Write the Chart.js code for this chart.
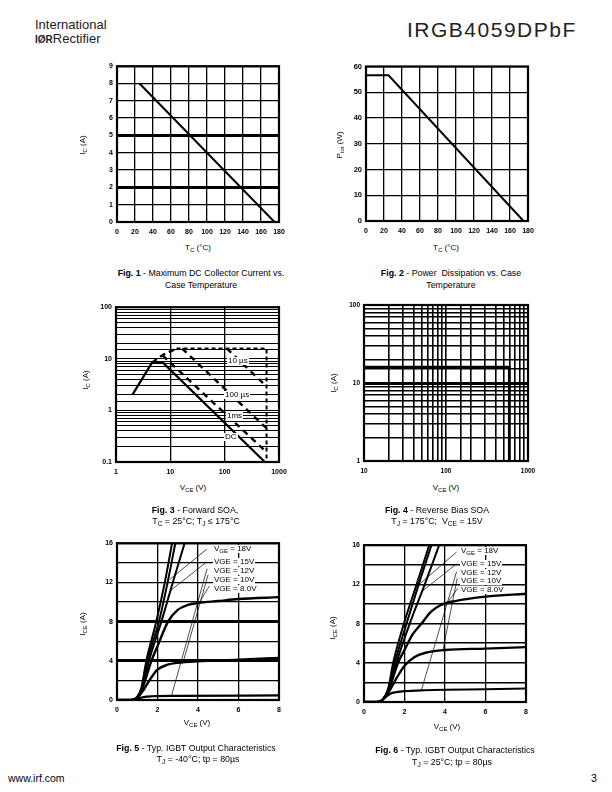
<!DOCTYPE html>
<html>
<head>
<meta charset="utf-8">
<script src="https://cdn.jsdelivr.net/npm/chart.js@4.4.0/dist/chart.umd.min.js"></script>
<style>
  body { margin: 0; width: 612px; height: 792px; position: relative; background: #fff; overflow: hidden;
         font-family: "Liberation Sans", Arial, sans-serif; color: #000; }
  canvas { position: absolute; }
  .t { position: absolute; white-space: nowrap; line-height: 1; }
  .c { transform: translate(-50%, -50%); }
  .r { transform: translate(-50%, -50%) rotate(-90deg); }
  .axt { font-size: 8px; }
  .cap { font-size: 8.8px; }
  .lbl { font-size: 8px; background: #fff; padding: 0 1px; }
  sub { font-size: 75%; vertical-align: -2px; line-height: 0; }
</style>
</head>
<body>
<div class="t" style="left:35px;top:18px;font-size:13px;color:#222">International</div>
<div class="t" style="left:35px;top:32px;font-size:13px;color:#222"><b style="font-size:10px">IØR</b>Rectifier</div>
<div class="t" style="left:407px;top:19px;font-size:21px;letter-spacing:1.5px;color:#222">IRGB4059DPbF</div>

<canvas id="fig1"></canvas>
<canvas id="fig2"></canvas>
<canvas id="fig3"></canvas>
<canvas id="fig4"></canvas>
<canvas id="fig5"></canvas>
<canvas id="fig6"></canvas>

<!-- axis titles -->
<div class="t axt r" style="left:83px;top:145px">I<sub>C</sub> (A)</div>
<div class="t axt c" style="left:198px;top:248px">T<sub>C</sub> (°C)</div>
<div class="t axt r" style="left:340px;top:145px">P<sub>tot</sub> (W)</div>
<div class="t axt c" style="left:446px;top:248px">T<sub>C</sub> (°C)</div>
<div class="t axt r" style="left:86px;top:380px">I<sub>C</sub> (A)</div>
<div class="t axt c" style="left:193px;top:488px">V<sub>CE</sub> (V)</div>
<div class="t axt r" style="left:334px;top:383px">I<sub>C</sub> (A)</div>
<div class="t axt c" style="left:446px;top:488px">V<sub>CE</sub> (V)</div>
<div class="t axt r" style="left:83px;top:624px">I<sub>CE</sub> (A)</div>
<div class="t axt c" style="left:197px;top:723px">V<sub>CE</sub> (V)</div>
<div class="t axt r" style="left:333px;top:628px">I<sub>CE</sub> (A)</div>
<div class="t axt c" style="left:447px;top:727px">V<sub>CE</sub> (V)</div>

<!-- fig 3 curve labels -->
<div class="t lbl" style="left:227px;top:357px">10 µs</div>
<div class="t lbl" style="left:224px;top:391px">100 µs</div>
<div class="t lbl" style="left:226px;top:412px">1ms</div>
<div class="t lbl" style="left:224px;top:433px">DC</div>

<!-- fig 5 / 6 legends -->
<div class="t lbl" style="left:213px;top:545px">V<sub>GE</sub> = 18V</div>
<div class="t lbl" style="left:213px;top:558px">VGE = 15V</div>
<div class="t lbl" style="left:213px;top:567px">VGE = 12V</div>
<div class="t lbl" style="left:213px;top:576px">VGE = 10V</div>
<div class="t lbl" style="left:213px;top:585px">VGE = 8.0V</div>
<div class="t lbl" style="left:460px;top:547px">V<sub>GE</sub> = 18V</div>
<div class="t lbl" style="left:460px;top:560px">VGE = 15V</div>
<div class="t lbl" style="left:460px;top:569px">VGE = 12V</div>
<div class="t lbl" style="left:460px;top:577px">VGE = 10V</div>
<div class="t lbl" style="left:460px;top:586px">VGE = 8.0V</div>

<!-- captions -->
<div class="t cap c" style="left:201px;top:273px"><b>Fig. 1</b> - Maximum DC Collector Current vs.</div>
<div class="t cap c" style="left:201px;top:285px">Case Temperature</div>
<div class="t cap c" style="left:451px;top:273px"><b>Fig. 2</b> - Power&nbsp; Dissipation vs. Case</div>
<div class="t cap c" style="left:451px;top:285px">Temperature</div>
<div class="t cap c" style="left:195px;top:510px"><b>Fig. 3</b> - Forward SOA,</div>
<div class="t cap c" style="left:196px;top:521px">T<sub>C</sub> = 25°C; T<sub>J</sub> ≤ 175°C</div>
<div class="t cap c" style="left:437px;top:510px"><b>Fig. 4</b> - Reverse Bias SOA</div>
<div class="t cap c" style="left:437px;top:521px">T<sub>J</sub> = 175°C;&nbsp; V<sub>CE</sub> = 15V</div>
<div class="t cap c" style="left:196px;top:748px"><b>Fig. 5</b> - Typ. IGBT Output Characteristics</div>
<div class="t cap c" style="left:198px;top:759px">T<sub>J</sub> = -40°C; tp = 80µs</div>
<div class="t cap c" style="left:455px;top:750px"><b>Fig. 6</b> - Typ. IGBT Output Characteristics</div>
<div class="t cap c" style="left:452px;top:762px">T<sub>J</sub> = 25°C; tp = 80µs</div>

<div class="t" style="left:8px;top:773px;font-size:10.5px">www.irf.com</div>
<div class="t" style="left:591px;top:773px;font-size:10.5px">3</div>

<script>
// Fig 1 - max DC collector current vs case temperature
const fig1Temp = [25, 175];
const fig1Current = [8, 0];

// Fig 2 - power dissipation vs case temperature
const fig2Temp = [0, 25, 175];
const fig2Power = [56.6, 56.6, 0];

// Fig 3 - forward SOA
const fig3DcV = [2, 4.6, 7.3, 550];
const fig3DcI = [2, 8.4, 8.4, 0.1];
const fig3RiseV = [4.6, 6.3, 8, 13];
const fig3RiseI = [8.4, 10.8, 12.5, 15.8];
const fig3LimitV = [13, 590, 590];
const fig3LimitI = [15.8, 15.8, 0.1];
const fig3Ms1V = [7.2, 590];
const fig3Ms1I = [11.6, 0.155];
const fig3Us100V = [16.5, 590];
const fig3Us100I = [15.8, 0.45];
const fig3Us10V = [110, 590];
const fig3Us10I = [15.8, 2.9];

// Fig 4 - reverse bias SOA
const fig4V = [10, 590, 590];
const fig4I = [16, 16, 1];

// Fig 5 - output characteristics, Tj = -40C
const fig5V18 = [0, 0.7, 1.0, 1.2, 1.45, 1.94, 2.36, 2.72];
const fig5I18 = [0, 0, 0.3, 1.2, 4, 8, 12, 16];
const fig5V15 = [0, 0.7, 1.0, 1.2, 1.5, 2.07, 2.5, 2.88];
const fig5I15 = [0, 0, 0.3, 1.1, 4, 8, 12, 16];
const fig5V15b = [0, 0.7, 1.0, 1.25, 1.58, 2.19, 2.8, 3.34];
const fig5I15b = [0, 0, 0.3, 1.2, 4, 8, 12.3, 16];
const fig5V12 = [0, 0.7, 1.0, 1.3, 1.7, 2.0, 2.52, 3.0, 3.5, 4.0, 5.0, 6.0, 8.0];
const fig5I12 = [0, 0, 0.3, 1.5, 4, 5.5, 8, 9.2, 9.7, 9.9, 10.1, 10.3, 10.5];
const fig5V10 = [0, 0.7, 1.0, 1.3, 1.6, 2.0, 2.5, 3.0, 4.0, 6.0, 8.0];
const fig5I10 = [0, 0, 0.2, 1.0, 2.0, 3.1, 3.6, 3.8, 3.95, 4.1, 4.3];
const fig5V8 = [0, 0.7, 1.0, 1.3, 1.7, 3.0, 8.0];
const fig5I8 = [0, 0, 0.1, 0.3, 0.38, 0.42, 0.47];
const fig5LeadV = [[4.44, 2.6], [4.44, 2.6], [4.45, 2.7], [4.5, 3.25], [4.55, 4.05]];
const fig5LeadI = [[15.4, 12.3], [14.1, 11.1], [13.4, 0.5], [12.8, 3.75], [11.6, 9.9]];

// Fig 6 - output characteristics, Tj = 25C
const fig6V18 = [0, 0.6, 0.8, 1.0, 1.2, 1.44, 1.97, 2.6, 3.22];
const fig6I18 = [0, 0, 0.05, 0.45, 1.4, 4, 8, 12, 16];
const fig6V15 = [0, 0.6, 0.8, 1.0, 1.2, 1.52, 2.1, 2.7, 3.33];
const fig6I15 = [0, 0, 0.05, 0.45, 1.3, 4, 8, 12, 16];
const fig6V15b = [0, 0.6, 0.8, 1.0, 1.25, 1.6, 2.26, 3.0, 3.71];
const fig6I15b = [0, 0, 0.05, 0.45, 1.4, 4, 8, 12, 16];
const fig6V12 = [0, 0.6, 0.8, 1.0, 1.3, 1.68, 2.0, 2.4, 2.84, 3.3, 3.8, 4.5, 6.0, 8.0];
const fig6I12 = [0, 0, 0.05, 0.45, 1.7, 4, 5.3, 6.9, 8, 9.2, 9.9, 10.3, 10.75, 11.05];
const fig6V10 = [0, 0.6, 0.8, 1.0, 1.3, 1.6, 2.0, 2.5, 3.0, 4.0, 6.0, 8.0];
const fig6I10 = [0, 0, 0.05, 0.4, 1.3, 2.4, 3.7, 4.6, 5.0, 5.3, 5.45, 5.6];
const fig6V8 = [0, 0.6, 0.8, 1.0, 1.3, 1.6, 2.0, 3.0, 4.0, 6.0, 8.0];
const fig6I8 = [0, 0, 0.05, 0.4, 0.85, 1.0, 1.1, 1.2, 1.25, 1.3, 1.38];
const fig6LeadV = [[4.57, 2.67], [4.57, 2.84], [4.57, 2.84], [4.6, 3.9], [4.63, 4.0]];
const fig6LeadI = [[15.3, 11.9], [14.1, 11.25], [13.3, 1.25], [12.6, 5.3], [11.6, 9.8]];

// plot boxes on the page: left, top, right, bottom
const PAD_L = 34, PAD_T = 8, PAD_R = 14, PAD_B = 20;
const box1 = [117, 66, 279, 222];
const box2 = [366, 66, 528, 221];
const box3 = [116, 307, 279, 462];
const box4 = [364, 305, 528, 461];
const box5 = [117, 543, 279, 700];
const box6 = [364, 545, 526, 702];

Chart.defaults.font.family = '"Liberation Sans", Arial, sans-serif';
Chart.defaults.font.size = 7;
Chart.defaults.font.weight = 'bold';
Chart.defaults.color = '#000';
Chart.defaults.animation = false;
Chart.defaults.plugins.legend.display = false;
Chart.defaults.plugins.tooltip.enabled = false;

const frame = {
  id: 'frame',
  afterDatasetsDraw(chart) {
    const a = chart.chartArea, ctx = chart.ctx;
    ctx.save();
    ctx.strokeStyle = '#000';
    ctx.lineWidth = 2.2;
    ctx.strokeRect(a.left, a.top, a.right - a.left, a.bottom - a.top);
    ctx.restore();
  }
};

const isDecade = v => Math.abs(Math.log10(v) - Math.round(Math.log10(v))) < 1e-6;

function pts(xs, ys) {
  return xs.map((x, i) => ({ x, y: ys[i] }));
}

function line(xs, ys, width, dash, smooth) {
  return {
    data: pts(xs, ys),
    showLine: true,
    borderColor: '#000',
    borderWidth: width,
    borderDash: dash || [],
    cubicInterpolationMode: smooth ? 'monotone' : 'default',
    pointRadius: 0,
    fill: false
  };
}

function scale(pos, type, min, max, o) {
  const horiz = pos === 'bottom';
  return {
    type, position: pos, min, max,
    ticks: {
      stepSize: o.step,
      padding: horiz ? 6 : 4,
      autoSkip: false,
      maxRotation: 0,
      font: { size: o.font || 7 },
      callback: o.label || (v => v)
    },
    grid: {
      drawTicks: false,
      color: o.gridColor || '#000',
      lineWidth: o.gridWidth || 1.3
    },
    border: { display: false },
    afterFit: s => {
      if (horiz) s.height = PAD_B; else s.width = PAD_L;
    }
  };
}

function build(id, box, datasets, x, y) {
  const [l, t, r, b] = box;
  const cv = document.getElementById(id);
  cv.width = r - l + PAD_L + PAD_R;
  cv.height = b - t + PAD_T + PAD_B;
  cv.style.left = (l - PAD_L) + 'px';
  cv.style.top = (t - PAD_T) + 'px';
  return new Chart(cv, {
    type: 'scatter',
    data: { datasets },
    options: {
      responsive: false,
      devicePixelRatio: 1,
      layout: { padding: { left: 0, top: PAD_T, right: PAD_R, bottom: 0 } },
      scales: { x, y }
    },
    plugins: [frame]
  });
}

const logLabel = v => isDecade(v) ? String(v) : '';

build('fig1', box1,
  [line(fig1Temp, fig1Current, 2)],
  scale('bottom', 'linear', 0, 180, { step: 20 }),
  scale('left', 'linear', 0, 9, { step: 1, gridWidth: c => [2, 5].includes(c.tick.value) ? 3 : 1.3 })
);

build('fig2', box2,
  [line(fig2Temp, fig2Power, 2)],
  scale('bottom', 'linear', 0, 180, { step: 20 }),
  scale('left', 'linear', 0, 60, { step: 10, font: 7.5 })
);

build('fig3', box3,
  [
    line(fig3DcV, fig3DcI, 2.2),
    line(fig3RiseV, fig3RiseI, 2.4, [6, 4]),
    line(fig3LimitV, fig3LimitI, 2, [4, 3]),
    line(fig3Ms1V, fig3Ms1I, 2.4, [6, 5]),
    line(fig3Us100V, fig3Us100I, 2.4, [6, 5]),
    line(fig3Us10V, fig3Us10I, 2.4, [6, 5])
  ],
  scale('bottom', 'logarithmic', 1, 1000, {
    label: logLabel,
    gridColor: c => isDecade(c.tick.value) ? '#000' : 'rgba(0,0,0,0)'
  }),
  scale('left', 'logarithmic', 0.1, 100, { label: logLabel, gridWidth: 1.1 })
);

build('fig4', box4,
  [line(fig4V, fig4I, 2.6)],
  scale('bottom', 'logarithmic', 10, 1000, { label: logLabel, font: 6.5, gridWidth: 1.6 }),
  scale('left', 'logarithmic', 1, 100, {
    label: logLabel, font: 6.5,
    gridWidth: c => c.tick.value === 10 ? 3 : 1.6
  })
);

function leaders(vs, is) {
  return vs.map((v, k) => line(v, is[k], 0.7));
}

build('fig5', box5,
  [
    line(fig5V18, fig5I18, 2, null, true),
    line(fig5V15, fig5I15, 2, null, true),
    line(fig5V15b, fig5I15b, 2, null, true),
    line(fig5V12, fig5I12, 2.4, null, true),
    line(fig5V10, fig5I10, 2.4, null, true),
    line(fig5V8, fig5I8, 2.2, null, true),
    ...leaders(fig5LeadV, fig5LeadI)
  ],
  scale('bottom', 'linear', 0, 8, { step: 2 }),
  scale('left', 'linear', 0, 16, {
    step: 2,
    label: v => v % 4 === 0 ? v : '',
    gridWidth: c => [4, 8].includes(c.tick.value) ? 3 : 1.2
  })
);

build('fig6', box6,
  [
    line(fig6V18, fig6I18, 2, null, true),
    line(fig6V15, fig6I15, 2, null, true),
    line(fig6V15b, fig6I15b, 2, null, true),
    line(fig6V12, fig6I12, 2.4, null, true),
    line(fig6V10, fig6I10, 2.4, null, true),
    line(fig6V8, fig6I8, 2.2, null, true),
    ...leaders(fig6LeadV, fig6LeadI)
  ],
  scale('bottom', 'linear', 0, 8, { step: 2 }),
  scale('left', 'linear', 0, 16, {
    step: 2,
    label: v => v % 4 === 0 ? v : '',
    gridWidth: 1.6
  })
);
</script>
</body>
</html>
